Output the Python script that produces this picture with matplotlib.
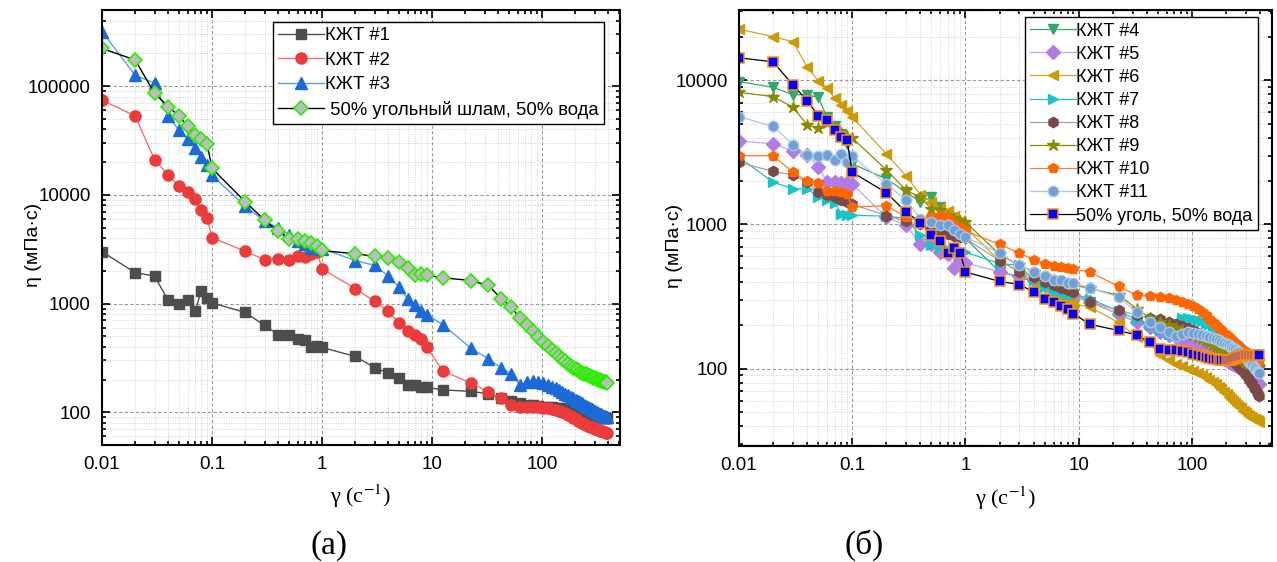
import matplotlib
matplotlib.use("Agg")
import matplotlib.pyplot as plt
from matplotlib.ticker import LogLocator, FuncFormatter, NullFormatter

plt.rcParams['font.family'] = ['Liberation Sans', 'DejaVu Sans']
plt.rcParams['mathtext.fontset'] = 'stix'

# shear rate grid, 1/s
shear = [0.01, 0.02, 0.03, 0.04, 0.05, 0.06, 0.07, 0.08, 0.09,
         0.1, 0.2, 0.3, 0.4, 0.5, 0.6, 0.7, 0.8, 0.9,
         1, 2, 3, 4, 5, 6, 7, 8, 9,
         12.5, 22.5, 32.5, 42.5, 52.5, 62.5, 72.5, 82.5, 92.5,
         102.5, 112.5, 122.5, 132.5, 142.5, 152.5, 162.5, 172.5, 182.5, 192.5,
         202.5, 212.5, 222.5, 232.5, 242.5, 252.5, 262.5, 272.5, 282.5, 292.5,
         302.5, 312.5, 322.5, 332.5, 342.5, 352.5, 362.5, 372.5, 382.5, 392.5]

# ---- panel (a), viscosity mPa*s
kjt1 = [3000, 1930, 1790, 1070, 1000, 1070, 850, 1320, 1120,
        1015, 830, 630, 520, 520, 475, 465, 400, 405,
        395, 327, 258, 230, 205, 180, 178, 172, 170,
        161, 156, 148, 135, 128, 122, 118, 116, 114,
        113, 112, 111, 110, 110, 109, 108, 108, 107, 106,
        105, 104, 103, 102, 101, 100, 99, 98, 97, 96,
        95, 94, 93, 92, 91, 90, 89, 89, 88, 88]
kjt2 = [74300, 53200, 21100, 15200, 12050, 10600, 9080, 7300, 6170,
        4040, 3030, 2540, 2590, 2540, 2770, 2670, 2850, 2990,
        2090, 1375, 1050, 850, 664, 565, 518, 473, 395,
        241, 186, 155, 135, 117, 113, 112, 111, 111,
        110, 109, 108, 106, 104, 101, 98, 95, 92, 89,
        86, 84, 82, 80, 78, 77, 75, 74, 73, 72,
        71, 70, 69, 68, 67, 67, 66, 66, 65, 65]
kjt3 = [317000, 126000, 106700, 53200, 39300, 32900, 27200, 22500, 19000,
        15100, 7890, 5730, 4990, 4320, 3750, 3550, 3260, 3370,
        3200, 2490, 2250, 1790, 1425, 1110, 980, 850, 790,
        640, 390, 310, 256, 226, 180, 190, 195, 190,
        185, 178, 172, 166, 160, 154, 148, 143, 139, 135,
        131, 127, 124, 121, 118, 115, 112, 110, 107, 105,
        103, 101, 99, 97, 96, 94, 93, 92, 91, 90]
sludge = [222000, 174000, 86100, 64600, 53200, 43000, 35300, 32400, 29600,
          17500, 8650, 5870, 4630, 3940, 3890, 3800, 3620, 3380,
          3080, 2870, 2730, 2640, 2400, 2130, 1820, 1890, 1820,
          1730, 1630, 1470, 1110, 925, 740, 630, 560, 495,
          445, 405, 375, 350, 328, 310, 294, 280, 268, 258,
          250, 243, 237, 232, 227, 223, 219, 215, 212, 209,
          206, 203, 200, 198, 196, 194, 192, 190, 189, 188]

# ---- panel (б)
kjt4 = [9780, 8920, 7940, 7920, 7600, 5530, 4850, 4240, 3610,
        2630, 2070, 1675, 1430, 1550, 1320, 1180, 1050, 930,
        800, 470, 430, 400, 370, 350, 340, 330, 320,
        290, 240, 210, 195, 180, 172, 166, 162, 158,
        155, 152, 149, 146, 143, 140, 137, 134, 132, 130,
        128, 126, 124, 122, 120, 118, 116, 114, 112, 110,
        108, 107, 106, 105, 104, 103, 102, 101, 100, 99]
kjt5 = [3810, 3610, 3250, 3050, 2520, 1960, 1960, 1940, 1940,
        1910, 1120, 985, 728, 733, 643, 620, 500, 563,
        540, 470, 440, 410, 380, 360, 345, 335, 325,
        290, 240, 210, 195, 180, 172, 166, 160, 155,
        150, 145, 141, 137, 133, 129, 126, 123, 120, 117,
        114, 112, 110, 108, 106, 104, 102, 100, 98, 96,
        94, 92, 90, 88, 86, 84, 82, 80, 79, 78]
kjt6 = [22600, 20000, 18500, 12300, 9930, 8840, 7480, 6730, 6160,
        5540, 3090, 2160, 1610, 1430, 1300, 1230, 1150, 1050,
        950, 560, 470, 400, 360, 330, 310, 290, 280,
        268, 209, 166, 150, 124, 114, 108, 104, 100,
        97, 93, 90, 87, 84, 81, 78, 75, 72, 69,
        67, 64, 62, 60, 58, 56, 54, 53, 51, 50,
        49, 48, 47, 46, 45.5, 45, 44.5, 44, 43.5, 43]
kjt7 = [2930, 1960, 1770, 1770, 1545, 1470, 1410, 1190, 1160,
        1160, 1140, 1100, 840, 720, 700, 680, 640, 620,
        643, 535, 520, 410, 368, 340, 330, 331, 330,
        306, 250, 220, 200, 185, 175, 170, 225, 225,
        222, 218, 213, 208, 203, 198, 192, 187, 182, 178,
        173, 168, 164, 160, 156, 152, 148, 144, 140, 137,
        134, 130, 127, 124, 121, 118, 115, 110, 106, 103]
kjt8 = [2700, 2330, 2200, 1960, 1675, 1600, 1560, 1480, 1440,
        1380, 1150, 1050, 1000, 930, 900, 860, 830, 820,
        800, 560, 470, 430, 400, 380, 360, 350, 340,
        290, 255, 235, 225, 220, 210, 205, 198, 190,
        184, 178, 172, 166, 160, 154, 148, 142, 137, 132,
        127, 122, 118, 114, 110, 106, 102, 99, 96, 93,
        90, 87, 84, 81, 78, 75, 72, 69, 67, 65]
kjt9 = [8240, 7690, 6490, 4900, 4640, 5020, 4600, 4290, 4100,
        3980, 2390, 1720, 1545, 1285, 1250, 1150, 1100, 1050,
        1040, 620, 520, 470, 440, 410, 400, 390, 380,
        360, 323, 261, 225, 210, 200, 192, 185, 178,
        172, 166, 160, 155, 150, 146, 142, 139, 136, 133,
        130, 128, 126, 124, 122, 120, 118, 116, 114, 112,
        111, 110, 109, 108, 107, 106, 105, 104, 103, 102]
kjt10 = [3000, 3000, 2300, 2000, 1940, 1700, 1700, 1680, 1620,
         1320, 1350, 1125, 1050, 1130, 1150, 1100, 1000, 950,
         900, 728, 633, 570, 535, 515, 505, 500, 490,
         468, 373, 323, 318, 313, 310, 300, 292, 282,
         272, 260, 248, 236, 222, 212, 200, 192, 184, 177,
         171, 165, 160, 155, 150, 146, 142, 138, 135, 132,
         129, 127, 125, 122, 120, 118, 117, 115, 114, 113]
kjt11 = [5590, 4790, 3580, 3030, 2960, 3040, 2800, 3100, 2700,
         2960, 1910, 1470, 1095, 1040, 990, 990, 920, 862,
         817, 633, 520, 468, 437, 412, 410, 395, 395,
         364, 314, 247, 211, 195, 180, 168, 175, 180,
         178, 175, 172, 169, 166, 163, 160, 157, 154, 151,
         148, 145, 142, 139, 136, 133, 130, 127, 124, 121,
         118, 115, 112, 109, 106, 103, 100, 97, 95, 93]
coal = [14300, 13400, 9270, 7210, 5680, 5330, 4520, 4020, 3850,
        2300, 1660, 1217, 1030, 840, 767, 637, 690, 637,
        468, 403, 383, 340, 303, 290, 272, 261, 241,
        203, 184, 171, 152, 136, 135, 134, 132, 130,
        127, 124, 122, 120, 118, 117, 116, 115, 114, 114,
        114, 114, 115, 117, 119, 120, 121, 122, 123, 124,
        124, 124, 125, 125, 125, 125, 125, 125, 125, 125]


def style_axes(ax, ylim, ylab_x):
    ax.set_xscale('log')
    ax.set_yscale('log')
    ax.set_xlim(0.01, 510)
    ax.set_ylim(*ylim)
    fmt = FuncFormatter(lambda v, _: '%g' % v)
    ax.xaxis.set_major_formatter(fmt)
    ax.yaxis.set_major_formatter(fmt)
    for a in (ax.xaxis, ax.yaxis):
        a.set_major_locator(LogLocator(base=10, numticks=20))
        a.set_minor_locator(LogLocator(base=10, subs=range(2, 10), numticks=20))
        a.set_minor_formatter(NullFormatter())
    ax.tick_params(which='both', direction='in', top=True, right=True, width=1.2)
    ax.tick_params(which='major', length=6, labelsize=13.5, pad=8)
    ax.tick_params(which='minor', length=3)
    ax.grid(which='major', linestyle=(0, (3, 2)), color='#9a9a9a', linewidth=0.8)
    ax.grid(which='minor', linestyle=(0, (1, 1.5)), color='#d0d0d0', linewidth=0.7)
    ax.set_axisbelow(True)
    for s in ax.spines.values():
        s.set_linewidth(1.5)
    ax.set_ylabel('η (мПа·с)', fontsize=14)
    ax.yaxis.set_label_coords(ylab_x, 0.46)
    ax.set_xlabel('γ (с$^{-1}$)', fontsize=16, family='Liberation Serif', labelpad=7)


fig = plt.figure(figsize=(12.77, 5.62), dpi=100)
ax1 = fig.add_axes([0.0799, 0.208, 0.4056, 0.774])
ax2 = fig.add_axes([0.5787, 0.206, 0.4174, 0.776])

# panel (a)
ax1.plot(shear, kjt1, '-s', color='#4d4d4d', mfc='#4d4d4d', mec='#4d4d4d', ms=7.5, lw=1, label='КЖТ #1')
ax1.plot(shear, kjt2, '-o', color='#f07070', mfc='#ec3b3b', mec='#ec3b3b', ms=8, lw=1, label='КЖТ #2')
ax1.plot(shear, kjt3, '-^', color='#5a9cf0', mfc='#1c6ad8', mec='#1c6ad8', ms=9, lw=1, label='КЖТ #3')
ax1.plot(shear, sludge, '-D', color='black', mfc='#bdbdbd', mec='#2aee00', mew=1.2, ms=7.5, lw=1,
         label=' 50% угольный шлам, 50% вода')
style_axes(ax1, (50, 5e5), -0.115)
leg1 = ax1.legend(loc='upper right', bbox_to_anchor=(0.97, 0.973), borderaxespad=0,
                  fontsize=13.3, handlelength=2.5, handletextpad=0.05, labelspacing=0.4,
                  borderpad=0.3, fancybox=False, framealpha=1, edgecolor='black')
leg1.get_frame().set_linewidth(1.0)

# panel (б)
series_b = [
    (kjt4, 'v', '#33a86a', '#33a86a', '#33a86a', 'КЖТ #4'),
    (kjt5, 'D', '#c7a3ee', '#b07de6', '#b07de6', 'КЖТ #5'),
    (kjt6, '<', '#d4a520', '#cc9a06', '#cc9a06', 'КЖТ #6'),
    (kjt7, '>', '#17c4c9', '#17c4c9', '#17c4c9', 'КЖТ #7'),
    (kjt8, 'h', '#b39a9a', '#7a4a48', '#7a4a48', 'КЖТ #8'),
    (kjt9, '*', '#8b8b00', '#8b8b00', '#8b8b00', 'КЖТ #9'),
    (kjt10, 'p', '#ff7a2a', '#ff6600', '#ff6600', 'КЖТ #10'),
    (kjt11, 'o', '#a8c6e6', '#6f9fd4', '#a9c8e8', 'КЖТ #11'),
]
for ys, m, lc, fc, ec, lab in series_b:
    ms = 9 if m == '*' else 7.5
    ax2.plot(shear, ys, '-' + m, color=lc, mfc=fc, mec=ec, ms=ms, lw=0.9, label=lab)
ax2.plot(shear, coal, '-s', color='black', mfc='#0000ff', mec='#ff8c1a', mew=1.1, ms=7, lw=0.9,
         label='50% уголь, 50% вода')
style_axes(ax2, (29, 30600), -0.105)
leg2 = ax2.legend(loc='upper right', bbox_to_anchor=(0.974, 0.984), borderaxespad=0,
                  fontsize=13, handlelength=2.5, handletextpad=0.05, labelspacing=0.34,
                  borderpad=0.3, fancybox=False, framealpha=1, edgecolor='black')
leg2.get_frame().set_linewidth(1.0)

fig.text(0.258, 0.03, '(а)', fontsize=24, family='Liberation Serif', ha='center', va='center')
fig.text(0.677, 0.03, '(б)', fontsize=24, family='Liberation Serif', ha='center', va='center')

fig.savefig('out.png', dpi=100)
